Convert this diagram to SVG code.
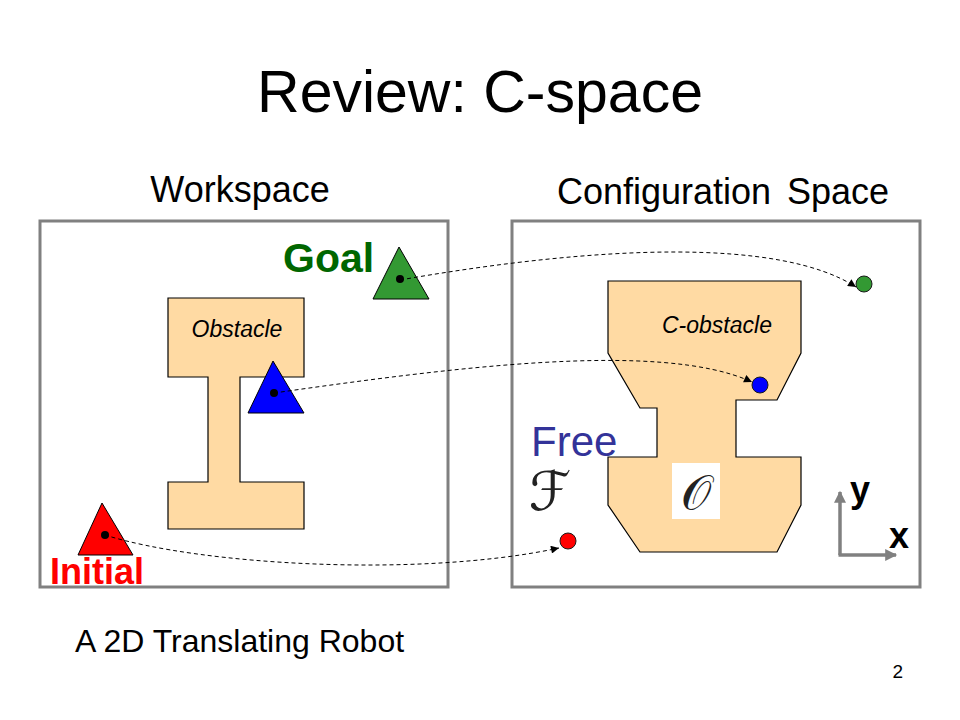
<svg xmlns="http://www.w3.org/2000/svg" width="960" height="720" viewBox="0 0 960 720">
  <defs>
    <marker id="arr" viewBox="0 0 10 10" refX="10" refY="5" markerWidth="9" markerHeight="8" markerUnits="userSpaceOnUse" orient="auto">
      <path d="M0,0 L10,5 L0,10 z" fill="#000"/>
    </marker>
    <marker id="garr" viewBox="0 0 10 10" refX="9" refY="5" markerWidth="13" markerHeight="12" markerUnits="userSpaceOnUse" orient="auto">
      <path d="M0,0 L10,5 L0,10 z" fill="#808080"/>
    </marker>
  </defs>
  <style>
    text { font-family: "Liberation Sans", Arial, sans-serif; }
    .frame { fill: #fff; stroke: #808080; stroke-width: 3; }
    .obst { fill: #FFDAA3; stroke: #000; stroke-width: 1.2; }
    .tri { stroke: #000; stroke-width: 1; }
    .pt { fill: #000; }
    .dot { stroke: #1a1a1a; stroke-width: 1; }
    .conn { fill: none; stroke: #000; stroke-width: 1; stroke-dasharray: 4 3; marker-end: url(#arr); }
    .axis { fill: none; stroke: #808080; stroke-width: 3.5; marker-end: url(#garr); }
    .script { font-family: "DejaVu Serif", "DejaVu Sans", "Noto Sans", serif; fill: #222; }
  </style>
  <rect width="960" height="720" fill="#fff"/>

  <text id="title" x="480" y="112" font-size="59" text-anchor="middle">Review: C-space</text>
  <text id="label-workspace" x="240" y="202" font-size="36" text-anchor="middle">Workspace</text>
  <text id="label-cspace" x="723" y="204" font-size="36" text-anchor="middle" word-spacing="6">Configuration Space</text>
  <text id="caption" x="75" y="652" font-size="32">A 2D Translating Robot</text>
  <text id="page" x="903" y="678" font-size="19" text-anchor="end">2</text>

  <g id="workspace">
    <rect class="frame" x="40" y="221" width="408" height="366"/>
  </g>
  <g id="cspace">
    <rect class="frame" x="512" y="221" width="408" height="366"/>
  </g>

  <g id="obstacle">
    <polygon class="obst" points="168,298 304,298 304,377 240,377 240,482 304,482 304,529 168,529 168,482 208,482 208,377 168,377"/>
    <text x="237" y="337" font-size="23" font-style="italic" text-anchor="middle">Obstacle</text>
  </g>

  <g id="c-obstacle">
    <polygon class="obst" points="608,281 801,281 801,353 777,400 736,400 736,457 801,457 801,505 777,552 640,552 608,505 608,457 657,457 657,408 640,408 608,353"/>
    <text x="662" y="333" font-size="23" font-style="italic">C-obstacle</text>
    <rect x="672" y="463" width="48" height="56" fill="#fff"/>
    <text class="script" x="696" y="509" font-size="48" text-anchor="middle">𝒪</text>
  </g>

  <g id="free">
    <text x="531" y="456" font-size="42" fill="#333399">Free</text>
    <text class="script" x="550" y="510" font-size="54" text-anchor="middle">ℱ</text>
  </g>

  <g id="goal-robot">
    <polygon class="tri" points="399,247 373,299 429,299" fill="#339933"/>
    <circle class="pt" cx="400" cy="279" r="4"/>
    <text x="283" y="272" font-size="41" font-weight="bold" fill="#006600">Goal</text>
  </g>
  <g id="mid-robot">
    <polygon class="tri" points="273,361 248,413 304,413" fill="#0000FF"/>
    <circle class="pt" cx="274" cy="393" r="4"/>
  </g>
  <g id="initial-robot">
    <polygon class="tri" points="102,503 78,555 133,555" fill="#FF0000"/>
    <circle class="pt" cx="105" cy="535" r="4"/>
    <text x="50" y="584" font-size="36" font-weight="bold" fill="#FF0000">Initial</text>
  </g>

  <g id="goal-config">
    <circle class="dot" cx="864" cy="284" r="8" fill="#339933"/>
  </g>
  <g id="mid-config">
    <circle class="dot" cx="760" cy="385" r="8" fill="#0000FF"/>
  </g>
  <g id="initial-config">
    <circle class="dot" cx="568" cy="541" r="8" fill="#FF0000"/>
  </g>

  <g id="axes">
    <path class="axis" d="M840,555 L840,492"/>
    <path class="axis" d="M838.5,555 L896,555"/>
    <text x="850" y="502" font-size="36" font-weight="bold">y</text>
    <text x="889" y="548" font-size="36" font-weight="bold">x</text>
  </g>

  <g id="connectors">
    <path class="conn" d="M400,280 C600,245 780,238 856,287"/>
    <path class="conn" d="M274,393 C450,368 660,340 752,382"/>
    <path class="conn" d="M105,535 C200,565 420,578 559,548"/>
  </g>
</svg>
